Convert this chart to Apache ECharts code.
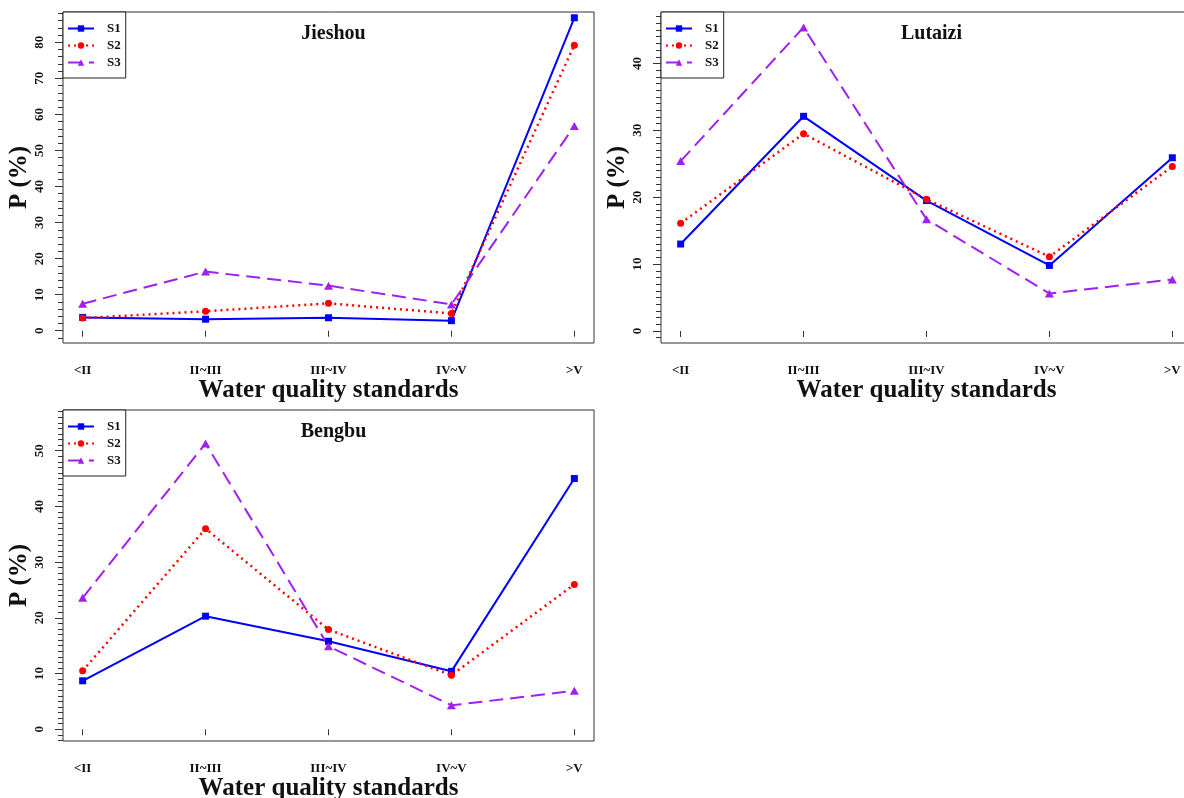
<!DOCTYPE html>
<html>
<head>
<meta charset="utf-8">
<script src="https://cdn.jsdelivr.net/npm/echarts@6/dist/echarts.min.js"></script>
<style>
  html, body { margin: 0; padding: 0; background: #fff; }
  #main { width: 1184px; height: 798px; }
</style>
</head>
<body>
<div id="main"></div>
<script>
const categories = ['<II', 'II~III', 'III~IV', 'IV~V', '>V'];
const seriesNames = ['S1', 'S2', 'S3'];

const jieshouS1 = [3.7, 3.2, 3.6, 2.8, 86.8];
const jieshouS2 = [3.5, 5.4, 7.6, 4.8, 79.2];
const jieshouS3 = [7.5, 16.4, 12.5, 7.3, 56.8];

const lutaiziS1 = [13.0, 32.1, 19.5, 9.8, 25.9];
const lutaiziS2 = [16.1, 29.5, 19.7, 11.1, 24.6];
const lutaiziS3 = [25.4, 45.4, 16.7, 5.6, 7.7];

const bengbuS1 = [8.7, 20.3, 15.8, 10.4, 45.0];
const bengbuS2 = [10.5, 36.0, 17.9, 9.7, 26.0];
const bengbuS3 = [23.6, 51.3, 14.9, 4.3, 6.9];

const jieshouTicks = [0, 10, 20, 30, 40, 50, 60, 70, 80];
const lutaiziTicks = [0, 10, 20, 30, 40];
const bengbuTicks = [0, 10, 20, 30, 40, 50];

const font = 'Liberation Serif';
const colors = ['#0000FF', '#FF0000', '#A020F0'];
const symbols = ['rect', 'circle', 'triangle'];
const symbolSizes = [7, 7, [9, 8]];
const lineStyles = [
    { width: 2, type: 'solid' },
    { width: 2.5, type: [2, 4] },
    { width: 2, type: [14, 7] }
];

// one entry per panel: title, data and layout
const panels = [
    { title: 'Jieshou', data: [jieshouS1, jieshouS2, jieshouS3], ticks: jieshouTicks,
      min: -3.4, max: 88.4, minorStep: 2, left: 63, top: 12 },
    { title: 'Lutaizi', data: [lutaiziS1, lutaiziS2, lutaiziS3], ticks: lutaiziTicks,
      min: -1.8, max: 47.7, minorStep: 1, left: 661, top: 12 },
    { title: 'Bengbu', data: [bengbuS1, bengbuS2, bengbuS3], ticks: bengbuTicks,
      min: -2.1, max: 57.3, minorStep: 1, left: 63, top: 410 }
];
const gridW = 531, gridH = 331;

const chart = echarts.init(document.getElementById('main'));

const grid = [], xAxis = [], yAxis = [], series = [], title = [], legend = [];
panels.forEach((p, k) => {
    grid.push({
        left: p.left, top: p.top, width: gridW, height: gridH,
        outerBoundsMode: 'none',
        show: true, borderColor: '#333', borderWidth: 1, backgroundColor: '#fff'
    });
    const xPos = categories.map((c, i) => i + 1);
    xAxis.push({
        gridIndex: k, type: 'value', min: 0.84, max: 5.16,
        offset: 4,
        axisLine: { show: false },
        splitLine: { show: false },
        axisTick: { show: true, length: 6, customValues: xPos, lineStyle: { color: '#333' } },
        axisLabel: {
            customValues: xPos, margin: 17,
            formatter: v => categories[Math.round(v) - 1],
            fontFamily: font, fontWeight: 'bold', fontSize: 13, color: '#111'
        },
        name: 'Water quality standards', nameLocation: 'middle', nameGap: 29,
        nameTextStyle: { fontFamily: font, fontWeight: 'bold', fontSize: 25, color: '#111' }
    });
    // major ticks + labels
    yAxis.push({
        gridIndex: k, type: 'value', position: 'left', min: p.min, max: p.max,
        axisLine: { show: false },
        splitLine: { show: false },
        axisTick: { show: true, length: 8, customValues: p.ticks, lineStyle: { color: '#333' } },
        axisLabel: {
            customValues: p.ticks, rotate: 90, margin: 17,
            fontFamily: font, fontWeight: 'bold', fontSize: 13, color: '#111'
        },
        name: 'P (%)', nameLocation: 'middle', nameRotate: 90, nameGap: 27,
        nameTextStyle: { fontFamily: font, fontWeight: 'bold', fontSize: 25, color: '#111' }
    });
    // minor ticks
    const minor = [];
    for (let v = Math.ceil(p.min / p.minorStep) * p.minorStep; v <= p.max; v += p.minorStep) {
        minor.push(v);
    }
    yAxis.push({
        gridIndex: k, type: 'value', position: 'left', offset: 0, min: p.min, max: p.max,
        axisLine: { show: false },
        splitLine: { show: false },
        axisTick: { show: true, length: 5, customValues: minor, lineStyle: { color: '#333' } },
        axisLabel: { show: false }
    });
    title.push({
        text: p.title, left: p.left + gridW / 2, top: p.top + 7, textAlign: 'center',
        textStyle: { fontFamily: font, fontWeight: 'bold', fontSize: 20, color: '#111' }
    });
    legend.push({
        left: p.left, top: p.top, orient: 'vertical',
        data: seriesNames,
        borderColor: '#222', borderWidth: 1, borderRadius: 0,
        backgroundColor: '#fff',
        padding: [10, 5, 9, 4], itemGap: 4,
        itemWidth: 26, itemHeight: 8,
        selectedMode: false,
        textStyle: { fontFamily: font, fontWeight: 'bold', fontSize: 13, color: '#111', padding: [0, 0, 0, 8] }
    });
    p.data.forEach((vals, s) => {
        series.push({
            name: seriesNames[s], type: 'line',
            xAxisIndex: k, yAxisIndex: k * 2,
            data: vals.map((v, i) => [i + 1, v]),
            symbol: symbols[s], symbolSize: symbolSizes[s],
            showAllSymbol: true,
            itemStyle: { color: colors[s] },
            lineStyle: Object.assign({ color: colors[s] }, lineStyles[s]),
            animation: false, z: 3
        });
    });
});

chart.setOption({
    backgroundColor: '#fff',
    animation: false,
    title, legend, grid, xAxis, yAxis, series
});
</script>
</body>
</html>
